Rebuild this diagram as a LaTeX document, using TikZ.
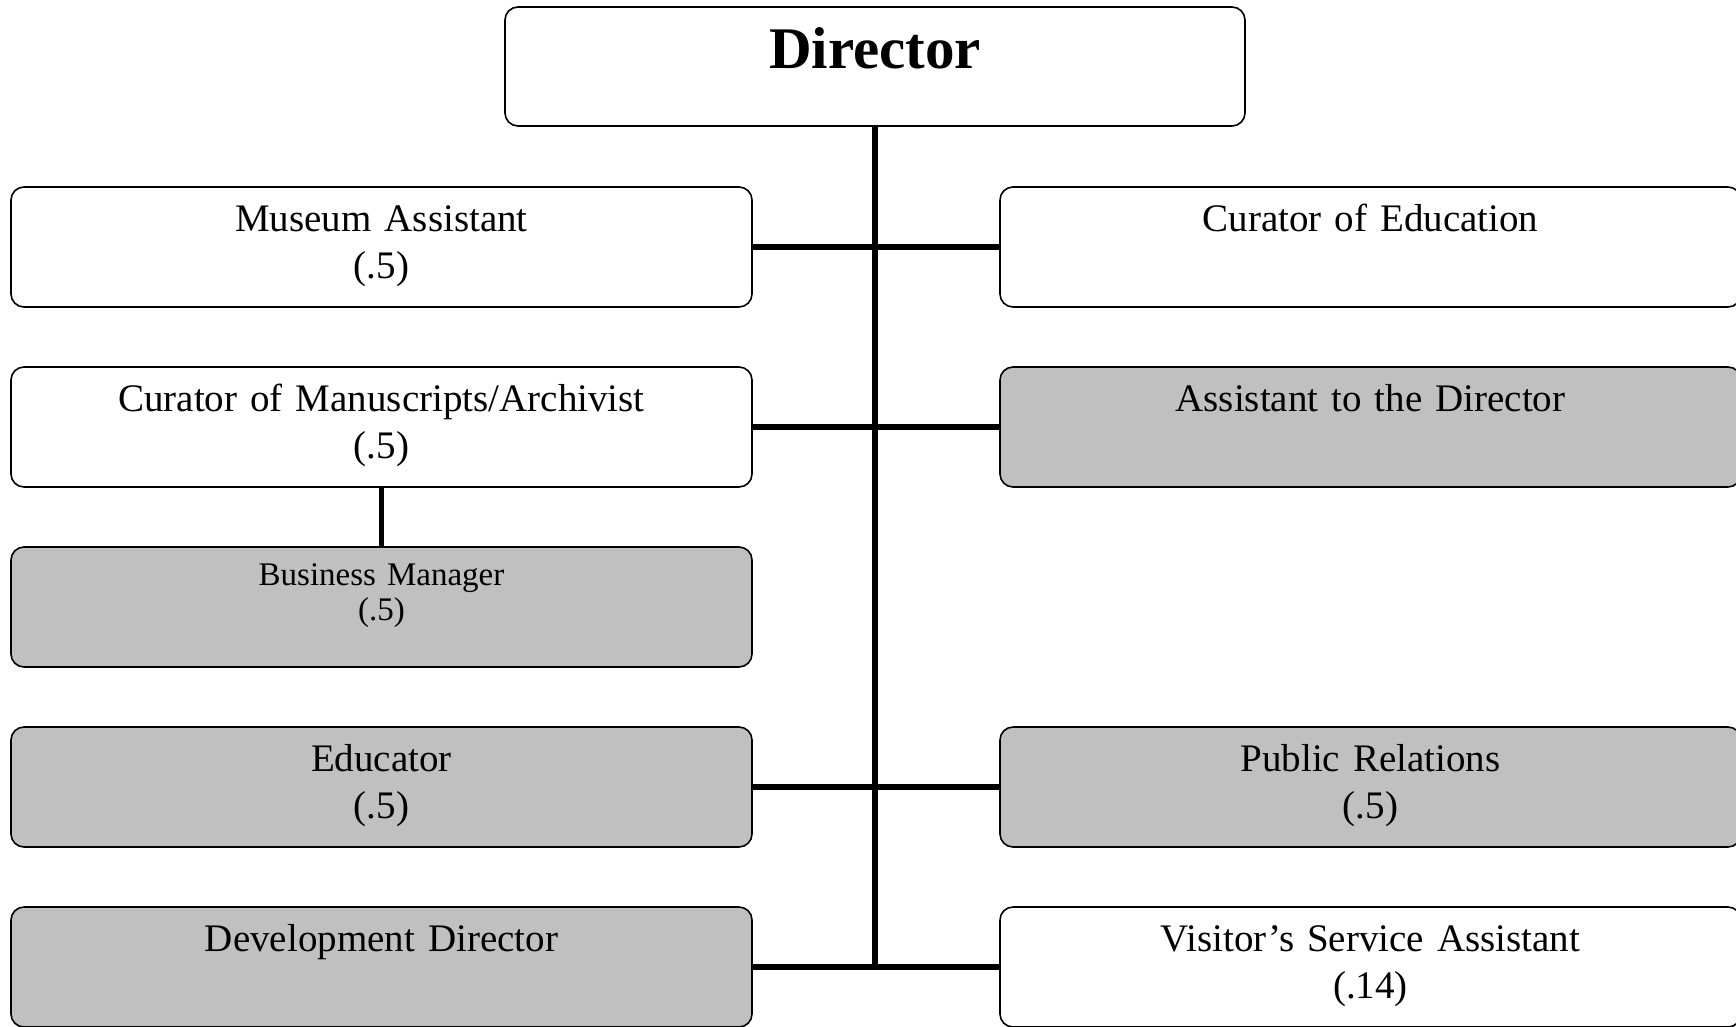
\documentclass[tikz,border=0pt]{standalone}
\usepackage{fontspec}
\setmainfont{Liberation Serif}
\usetikzlibrary{positioning}
\definecolor{boxgray}{RGB}{192,192,192}

\begin{document}
\begin{tikzpicture}[x=1pt, y=1pt]
\tikzstyle{post}=[draw, line width=1.6pt, rounded corners=13pt, minimum width=741pt, minimum height=120pt, inner sep=0pt, text width=735pt, align=center, font=\fontsize{39}{47}\selectfont, text height=30pt, text depth=62pt, node distance=180pt]
\tikzstyle{shaded}=[fill=boxgray]
\tikzstyle{link}=[line width=5.5pt]
\useasboundingbox (0,0) rectangle (1736,-1026);
	\node[post, minimum width=740pt, minimum height=119pt, font=\bfseries\fontsize{59}{66}\selectfont, text height=45pt, text depth=42pt] (dir) at (875,-66.5) {Director};
	% left column
	\node[post] (mus) at (381.5,-247) {Museum Assistant\\(.5)};
	\node[post, below of=mus] (cma) {Curator of Manuscripts/Archivist\\(.5)};
	\node[post, shaded, below of=cma, font=\fontsize{33}{35}\selectfont, text height=25pt, text depth=69pt] (bus) {Business Manager\\(.5)};
	\node[post, shaded, below of=bus] (edu) {Educator\\(.5)};
	\node[post, shaded, below of=edu] (dev) {Development Director};
	% right column
	\node[post] (cue) at (1370.5,-247) {Curator of Education};
	\node[post, shaded, below of=cue] (atd) {Assistant to the Director};
	\node[post, shaded, node distance=360pt, below of=atd] (pub) {Public Relations\\(.5)};
	\node[post, below of=pub] (vsa) {Visitor’s Service Assistant\\(.14)};

	\draw[link] (dir.south) -- (dir.south |- dev.east);
	\draw[link] (mus.east) -- (cue.west);
	\draw[link] (cma.east) -- (atd.west);
	\draw[link] (edu.east) -- (pub.west);
	\draw[link] (dev.east) -- (vsa.west);
	\draw[link] (cma.south) -- (bus.north);
\end{tikzpicture}
\end{document}
